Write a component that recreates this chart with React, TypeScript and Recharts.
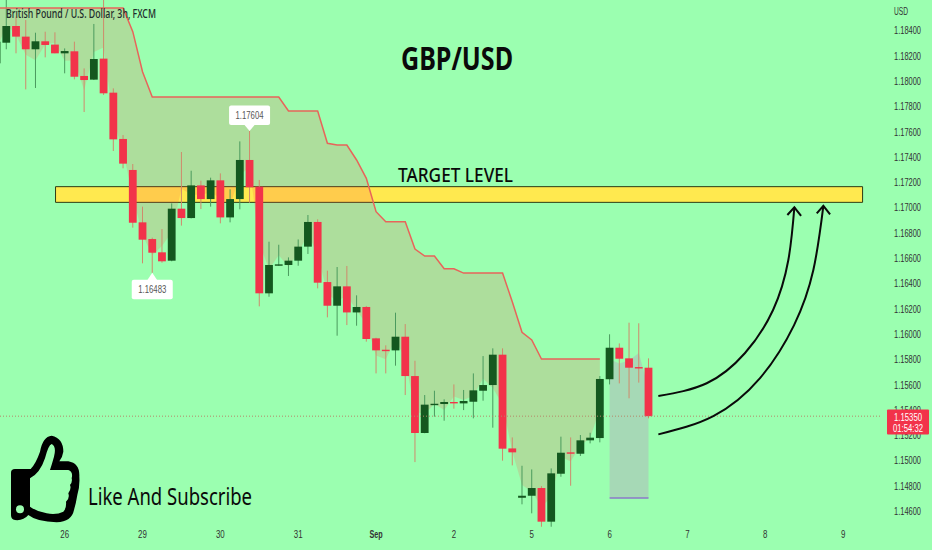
import { ComposedChart, Bar, Line, Area, XAxis, YAxis, ReferenceArea, ReferenceLine, ReferenceDot } from "recharts"

const BG = "#9bffb0"
const RED = "#f2334a"
const GREEN = "#14581f"
const FONT = "'Noto Sans', sans-serif"
const SMALL = "'Liberation Sans', sans-serif"
const BODY_WIDTH = 7.8

const opens = [1.18139,1.18302,1.18434,1.1835,1.1825,1.18313,1.18287,1.18218,1.18234,1.18039,1.1801,1.18176,1.17907,1.17541,1.17296,1.16882,1.1675,1.16645,1.16579,1.1699,1.16916,1.17174,1.17066,1.17214,1.16921,1.17066,1.17375,1.17164,1.16321,1.1654,1.16545,1.16579,1.1669,1.16885,1.1641,1.16223,1.16376,1.1617,1.16213,1.15965,1.15875,1.1587,1.15978,1.15667,1.15217,1.15437,1.15446,1.15462,1.15451,1.15464,1.15551,1.15596,1.15836,1.15095,1.14705,1.14721,1.14782,1.14516,1.14895,1.15064,1.15053,1.15159,1.15177,1.15642,1.15891,1.15807,1.15738,1.15733]
const highs = [1.1835,1.1864,1.18508,1.18481,1.18381,1.18389,1.18384,1.18257,1.1831,1.18099,1.1845,1.1864,1.17941,1.17572,1.17343,1.17006,1.16761,1.16829,1.17032,1.17438,1.1729,1.17211,1.17235,1.17269,1.17143,1.17522,1.17604,1.17217,1.16729,1.16705,1.16605,1.16747,1.1694,1.16906,1.165,1.16529,1.16537,1.16305,1.16221,1.1597,1.1591,1.16168,1.16078,1.15788,1.15517,1.15551,1.15483,1.15601,1.15557,1.15688,1.15825,1.15886,1.15886,1.15182,1.14958,1.14929,1.14797,1.14937,1.15188,1.15182,1.15201,1.15219,1.15667,1.15997,1.15925,1.16089,1.16084,1.15807]
const lows = [1.1812,1.1825,1.18218,1.17933,1.17944,1.18186,1.18218,1.1806,1.18012,1.17754,1.18007,1.17889,1.17446,1.17309,1.1684,1.16558,1.16483,1.16563,1.16574,1.16856,1.16913,1.16987,1.17006,1.16874,1.16882,1.16985,1.17037,1.16218,1.16294,1.16539,1.16458,1.16539,1.16632,1.1636,1.16131,1.15986,1.1607,1.16065,1.15939,1.15688,1.15688,1.15749,1.15517,1.14987,1.15215,1.15346,1.15314,1.15409,1.15398,1.15333,1.15472,1.15259,1.14998,1.14961,1.14653,1.14582,1.14476,1.14476,1.14871,1.148,1.15035,1.15135,1.15143,1.15601,1.15609,1.15491,1.15615,1.15333]
const closes = [1.1831,1.18434,1.1835,1.1825,1.18313,1.18284,1.18218,1.18236,1.18033,1.18007,1.18173,1.17902,1.17538,1.17346,1.16879,1.16745,1.16642,1.16574,1.1699,1.16916,1.17174,1.17066,1.17214,1.16921,1.17066,1.17375,1.17159,1.16321,1.16545,1.1655,1.16579,1.1669,1.16885,1.16405,1.16223,1.16376,1.1617,1.16213,1.1596,1.1587,1.15867,1.15978,1.15667,1.15217,1.15441,1.15448,1.15462,1.15451,1.1547,1.15554,1.15596,1.15836,1.15093,1.15064,1.14721,1.14782,1.14516,1.14898,1.15061,1.15056,1.15159,1.1518,1.15644,1.15891,1.15804,1.15733,1.15733,1.1535]

const trendDown = [1.18576,1.18576,1.18576,1.18576,1.18576,1.18576,1.18576,1.18576,1.18576,1.18576,1.18576,1.18576,1.18576,1.18576,1.18389,1.18073,1.17873,1.17873,1.17873,1.17873,1.17873,1.17873,1.17873,1.17873,1.17873,1.17873,1.17873,1.17873,1.17873,1.17873,1.17762,1.17762,1.17762,1.17762,1.17507,1.17493,1.17493,1.17375,1.1723,1.16966,1.16887,1.16887,1.16887,1.16671,1.16616,1.16616,1.16515,1.16515,1.16481,1.16481,1.16481,1.16481,1.16481,1.16255,1.16013,1.15952,1.15802,1.15802,1.15802,1.15802,1.15802,1.15802,1.15802,null,null,null,null,null]
const trendUp = [...Array(63).fill(null), 1.14703, 1.14703, 1.14703, 1.14703, 1.14703]

const priceTicks = [1.146,1.148,1.15,1.152,1.154,1.156,1.158,1.16,1.162,1.164,1.166,1.168,1.17,1.172,1.174,1.176,1.178,1.18,1.182,1.184]
const dayTicks = [6,14,22,30,38,46,54,62,70,78,86]
const dayLabels = ["26","29","30","31","Sep","2","5","6","7","8","9"]

const arrowOneX = [67.01,71.98,75.92,78.8,80.37,80.99]
const arrowOneY = [1.15509,1.1561,1.15849,1.16189,1.16584,1.17001]
const arrowTwoX = [67.01,72.66,77.46,80.96,82.94,83.97]
const arrowTwoY = [1.15206,1.15351,1.15651,1.1607,1.16505,1.17013]
const headOneX = [80.27,80.99,81.68]
const headOneY = [1.1694,1.17001,1.16934]
const headTwoX = [83.29,83.97,84.66]
const headTwoY = [1.16953,1.17013,1.16945]

const targetBand = { x1: 5.06, x2: 88, y1: 1.1704, y2: 1.17164 }
const lastPrice = 1.1535

const rows = opens.map((open, i) => {
  const mid = (highs[i] + lows[i]) / 2
  return {
    x: i - 1,
    open,
    high: highs[i],
    low: lows[i],
    close: closes[i],
    trendDown: trendDown[i],
    trendUp: trendUp[i],
    downBand: trendDown[i] === null ? null : [mid, trendDown[i]],
    upBand: trendUp[i] === null ? null : [trendUp[i], mid],
  }
})

const toPoints = (xs: number[], ys: number[]) => xs.map((x, i) => ({ x, y: ys[i] }))

function Candle(props: any) {
  const { x, y, width, height, payload } = props
  const pxPerPrice = height / (payload.high - payload.low)
  const top = y + (payload.high - Math.max(payload.open, payload.close)) * pxPerPrice
  const bodyH = Math.max(Math.abs(payload.open - payload.close) * pxPerPrice, 1.4)
  const up = payload.close >= payload.open
  const cx = x + width / 2
  return (
    <g>
      <line x1={cx} x2={cx} y1={y} y2={y + height} stroke={up ? "#4b9a5e" : "#cf8a6c"} strokeWidth={1} />
      <rect x={cx - BODY_WIDTH / 2} y={top} width={BODY_WIDTH} height={bodyH} fill={up ? GREEN : RED} />
    </g>
  )
}

function Callout({ cx, cy, text, below }: any) {
  const w = 41
  const boxY = below ? cy + 7 : cy - 25.5
  const tipY = below ? cy + 7.5 : cy - 6
  return (
    <g>
      <rect x={cx - w / 2} y={boxY} width={w} height={19.5} rx={2} fill="#fff" />
      <path d={`M${cx - 5},${tipY} L${cx},${cy} L${cx + 5},${tipY} Z`} fill="#fff" />
      <text x={cx} y={boxY + 13.5} textAnchor="middle" fontSize={10.5} fontFamily={SMALL} fill="#555" textLength={28} lengthAdjust="spacingAndGlyphs">{text}</text>
    </g>
  )
}

function PriceTick({ x, y, payload }: any) {
  return (
    <text x={x} y={y + 4} fontSize={10.5} fontFamily={SMALL} fill="#333" textLength={27} lengthAdjust="spacingAndGlyphs">
      {payload.value.toFixed(5)}
    </text>
  )
}

function DayTick({ x, y, payload }: any) {
  const label = dayLabels[dayTicks.indexOf(payload.value)]
  return (
    <text x={x} y={y + 4} textAnchor="middle" fontSize={10.5} fontFamily={SMALL} fill="#333" fontWeight={label === "Sep" ? 700 : 400} textLength={label.length * 4.4} lengthAdjust="spacingAndGlyphs">
      {label}
    </text>
  )
}

function Overlay() {
  return (
    <svg width={932} height={550} style={{ position: "absolute", left: 0, top: 0, pointerEvents: "none" }}>
      <text x={6} y={18} fontSize={12} fontFamily={FONT} fontWeight={500} fill="#1d2b2b" textLength={150} lengthAdjust="spacingAndGlyphs">British Pound / U.S. Dollar, 3h, FXCM</text>
      <text x={894} y={15} fontSize={10.5} fontFamily={SMALL} fill="#333" textLength={14} lengthAdjust="spacingAndGlyphs">USD</text>
      <text x={401} y={70} fontSize={33} fontFamily={FONT} fontWeight={700} fill="#0a0a0a" textLength={112} lengthAdjust="spacingAndGlyphs">GBP/USD</text>
      <text x={398} y={182} fontSize={19} fontFamily={FONT} fontWeight={500} fill="#0a0a0a" textLength={115} lengthAdjust="spacingAndGlyphs">TARGET LEVEL</text>
      <text x={88} y={505} fontSize={23} fontFamily={FONT} fill="#0a0a0a" textLength={164} lengthAdjust="spacingAndGlyphs">Like And Subscribe</text>
      <g transform="translate(0,420) scale(0.3333)">
        <path fill="#000" d="M45,147 L92,147 Q108,130 120,95 Q128,50 155,47 Q190,55 190,95 Q188,110 178,124 L205,124 Q240,130 238,170 Q240,200 232,225 Q228,250 222,270 Q215,305 170,307 Q110,305 85,285 Q70,303 45,300 Q33,298 33,285 L33,158 Q33,147 45,147 Z" />
        <path fill={BG} d="M90,175 Q120,160 135,115 Q145,75 155,72 Q170,80 162,110 Q155,135 150,150 L205,150 Q220,155 215,175 Q218,185 210,195 Q215,205 205,220 Q210,235 198,245 Q200,265 190,275 Q170,285 140,280 Q110,275 90,260 Z" />
        <circle cx={60} cy={268} r={12} fill={BG} />
      </g>
      <rect x={887} y={409.5} width={42} height={25} rx={1} fill={RED} />
      <text x={908} y={420.5} textAnchor="middle" fontSize={10} fontFamily={SMALL} fill="#fff" textLength={28} lengthAdjust="spacingAndGlyphs">1.15350</text>
      <text x={908} y={431.5} textAnchor="middle" fontSize={10} fontFamily={SMALL} fill="#fff" textLength={30} lengthAdjust="spacingAndGlyphs">01:54:32</text>
    </svg>
  )
}

export default function App() {
  return (
    <div style={{ position: "relative", width: 932, height: 550, background: BG }}>
      <style>{`body{margin:0}`}</style>
      <ComposedChart width={932} height={550} data={rows} margin={{ top: 0, right: 0, bottom: 0, left: 0 }}>
        <XAxis
          dataKey="x"
          type="number"
          domain={[-0.647, 89.79]}
          allowDataOverflow
          ticks={dayTicks}
          height={22}
          axisLine={false}
          tickLine={false}
          tickSize={0}
          tickMargin={6}
          tick={<DayTick />}
        />
        <YAxis
          orientation="right"
          type="number"
          domain={[1.14466, 1.186395]}
          allowDataOverflow
          ticks={priceTicks}
          width={52}
          axisLine={false}
          tickLine={false}
          tickSize={0}
          tickMargin={14}
          tick={<PriceTick />}
        />
        <ReferenceArea {...targetBand} fill="#ffe94f" fillOpacity={1} stroke="#2d3a12" strokeWidth={1} />
        <Area dataKey="downBand" fill="#ff4a40" fillOpacity={0.18} stroke="none" isAnimationActive={false} dot={false} activeDot={false} />
        <Area dataKey="upBand" fill="#c868c8" fillOpacity={0.25} stroke="none" isAnimationActive={false} dot={false} activeDot={false} />
        <Line dataKey="trendDown" stroke="#e8645a" strokeWidth={1.5} dot={false} activeDot={false} isAnimationActive={false} />
        <Line dataKey="trendUp" stroke="#8b78c9" strokeWidth={1.5} dot={false} activeDot={false} isAnimationActive={false} />
        <ReferenceLine y={lastPrice} stroke="#b5866a" strokeDasharray="1 2" />
        <Bar dataKey={(d: any) => [d.low, d.high]} barSize={7.6} shape={<Candle />} isAnimationActive={false} />
        <Line data={toPoints(arrowOneX, arrowOneY)} dataKey="y" type="natural" stroke="#0a0a0a" strokeWidth={2} dot={false} activeDot={false} isAnimationActive={false} />
        <Line data={toPoints(arrowTwoX, arrowTwoY)} dataKey="y" type="natural" stroke="#0a0a0a" strokeWidth={2} dot={false} activeDot={false} isAnimationActive={false} />
        <Line data={toPoints(headOneX, headOneY)} dataKey="y" stroke="#0a0a0a" strokeWidth={2} dot={false} activeDot={false} isAnimationActive={false} />
        <Line data={toPoints(headTwoX, headTwoY)} dataKey="y" stroke="#0a0a0a" strokeWidth={2} dot={false} activeDot={false} isAnimationActive={false} />
        <ReferenceDot x={25} y={1.17604} r={0} shape={(p: any) => <Callout cx={p.cx} cy={p.cy} text="1.17604" />} />
        <ReferenceDot x={15} y={1.16483} r={0} shape={(p: any) => <Callout cx={p.cx} cy={p.cy} text="1.16483" below />} />
      </ComposedChart>
      <Overlay />
    </div>
  )
}
